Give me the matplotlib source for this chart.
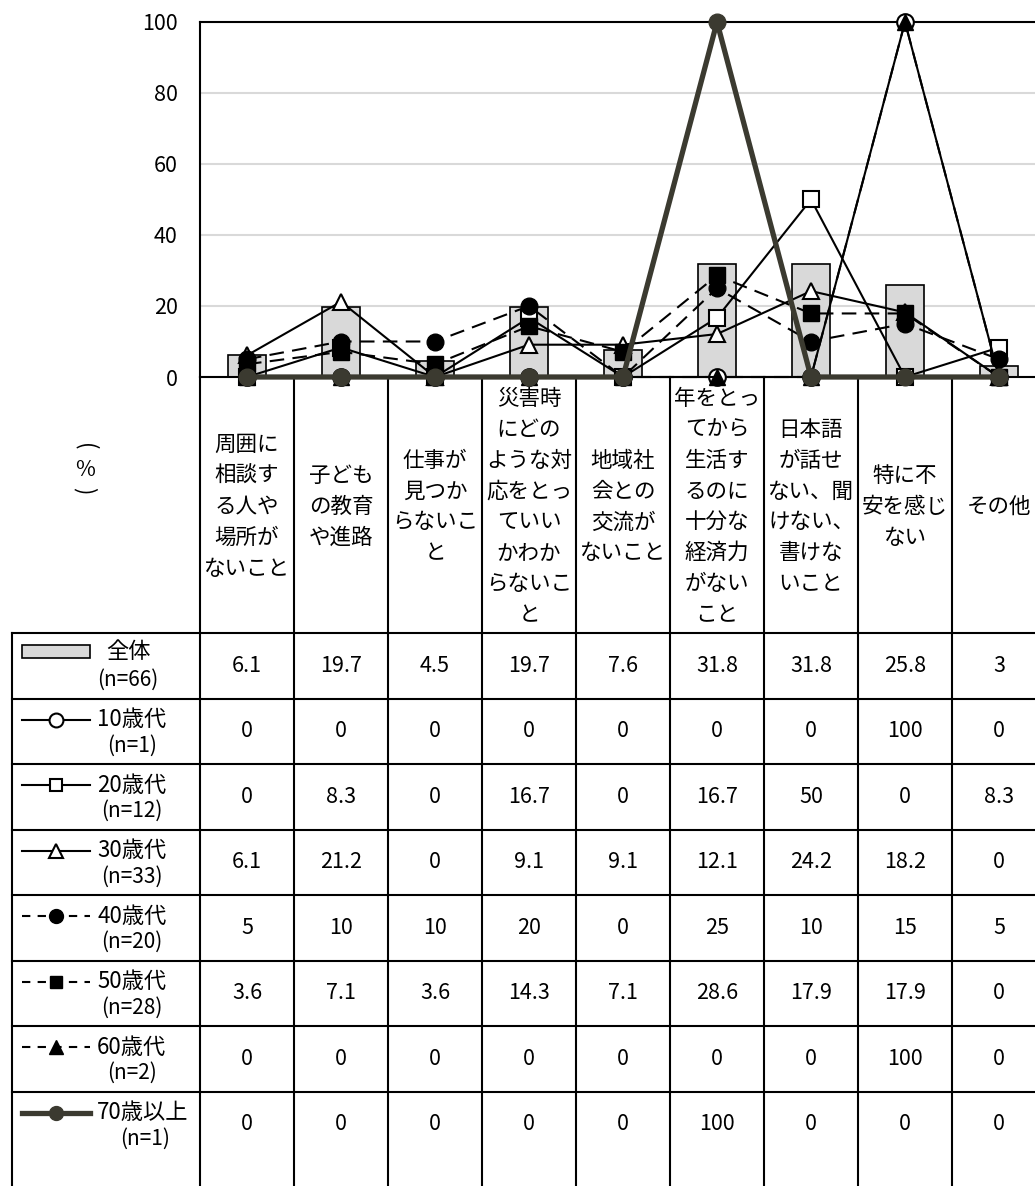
import numpy as np
import matplotlib
matplotlib.use('Agg')
import matplotlib.pyplot as plt
from matplotlib.lines import Line2D
from matplotlib.patches import Rectangle

plt.rcParams['font.family'] = ['Noto Sans CJK JP', 'DejaVu Sans']

categories = ['周囲に\n相談す\nる人や\n場所が\nないこと',
              '子ども\nの教育\nや進路',
              '仕事が\n見つか\nらないこ\nと',
              '災害時\nにどの\nような対\n応をとっ\nていい\nかわか\nらないこ\nと',
              '地域社\n会との\n交流が\nないこと',
              '年をとっ\nてから\n生活す\nるのに\n十分な\n経済力\nがない\nこと',
              '日本語\nが話せ\nない、聞\nけない、\n書けな\nいこと',
              '特に不\n安を感じ\nない',
              'その他']

total = [6.1, 19.7, 4.5, 19.7, 7.6, 31.8, 31.8, 25.8, 3]
age10 = [0, 0, 0, 0, 0, 0, 0, 100, 0]
age20 = [0, 8.3, 0, 16.7, 0, 16.7, 50, 0, 8.3]
age30 = [6.1, 21.2, 0, 9.1, 9.1, 12.1, 24.2, 18.2, 0]
age40 = [5, 10, 10, 20, 0, 25, 10, 15, 5]
age50 = [3.6, 7.1, 3.6, 14.3, 7.1, 28.6, 17.9, 17.9, 0]
age60 = [0, 0, 0, 0, 0, 0, 0, 100, 0]
age70 = [0, 0, 0, 0, 0, 100, 0, 0, 0]

row_names = ['全体', '10歳代', '20歳代', '30歳代', '40歳代', '50歳代', '60歳代', '70歳以上']
row_n = ['(n=66)', '(n=1)', '(n=12)', '(n=33)', '(n=20)', '(n=28)', '(n=2)', '(n=1)']
yticks = [0, 20, 40, 60, 80, 100]

W, H = 1035, 1186
dark = '#3b3a30'
dash = (0, (7, 4))
styles = [
    dict(color='black', lw=1.5, ls='-', marker='o', mfc='white', mec='black', ms=12, mew=1.5),
    dict(color='black', lw=1.5, ls='-', marker='s', mfc='white', mec='black', ms=11, mew=1.5),
    dict(color='black', lw=1.5, ls='-', marker='^', mfc='white', mec='black', ms=12, mew=1.5),
    dict(color='black', lw=1.5, ls=dash, marker='o', mfc='black', mec='black', ms=12),
    dict(color='black', lw=1.5, ls=dash, marker='s', mfc='black', mec='black', ms=11),
    dict(color='black', lw=1.5, ls=dash, marker='^', mfc='black', mec='black', ms=12),
    dict(color=dark, lw=3.8, ls='-', marker='o', mfc=dark, mec=dark, ms=12),
]
series = [age10, age20, age30, age40, age50, age60, age70]

fig = plt.figure(figsize=(W / 100, H / 100), dpi=100)

# pixel-space overlay for the data table
tab = fig.add_axes([0, 0, 1, 1], zorder=0)
tab.set_xlim(0, W)
tab.set_ylim(H, 0)
tab.axis('off')

x0, cw = 200, 94
y_axis0, y_top = 377, 22
hdr_bot, rh = 633, 65.5
ncat = len(categories)

ax = fig.add_axes([x0 / W, (H - y_axis0) / H, cw * ncat / W, (y_axis0 - y_top) / H], zorder=2)
ax.set_facecolor('none')
x = np.arange(ncat)
ax.bar(x, total, width=0.4, color='#d9d9d9', edgecolor='black', lw=1.2, zorder=2)
for vals, st in zip(series, styles):
    ax.plot(x, vals, clip_on=False, zorder=3, **st)
ax.set_xlim(-0.5, ncat - 0.5)
ax.set_ylim(0, 100)
ax.set_yticks(yticks)
ax.set_yticklabels([str(v) for v in yticks], fontsize=15.5)
ax.tick_params(axis='y', length=0, pad=16)
ax.set_xticks([])
ax.grid(axis='y', color='#d9d9d9', lw=1.5, zorder=0)
ax.set_axisbelow(True)
for s in ['left', 'top', 'bottom']:
    ax.spines[s].set_color('black')
    ax.spines[s].set_linewidth(1.5)
ax.spines['right'].set_visible(False)

# y-axis unit, written vertically
tab.text(85, 447, '(', ha='center', va='center', fontsize=16, rotation=-90)
tab.text(85, 470, '%', ha='center', va='center', fontsize=15.5)
tab.text(85, 491, ')', ha='center', va='center', fontsize=16, rotation=-90)

# table grid
for i in range(ncat + 1):
    xx = x0 + cw * i
    tab.plot([xx, xx], [y_axis0, H], color='black', lw=1.5)
for k in range(len(row_names)):
    yy = hdr_bot + rh * k
    tab.plot([12, W], [yy, yy], color='black', lw=1.5)
tab.plot([12, 12], [hdr_bot, H], color='black', lw=1.5)

# category labels
for i, c in enumerate(categories):
    tab.text(x0 + cw * (i + 0.5), (y_axis0 + hdr_bot) / 2 + 2, c, ha='center', va='center',
             fontsize=15.5, linespacing=1.52)

# table values
rows = [total] + series
for k, vals in enumerate(rows):
    top = hdr_bot + rh * k
    for i, v in enumerate(vals):
        tab.text(x0 + cw * (i + 0.5), top + rh / 2, '{:g}'.format(v), ha='center', va='center',
                 fontsize=15.5)

# legend keys
top = hdr_bot
tab.add_patch(Rectangle((22, top + 12), 68, 13, facecolor='#d9d9d9', edgecolor='black', lw=1.2))
tab.text(106, top + 19, row_names[0], ha='left', va='center', fontsize=16)
tab.text(128, top + 47, row_n[0], ha='center', va='center', fontsize=15)
for k, st in enumerate(styles, start=1):
    top = hdr_bot + rh * k
    ln = Line2D([22, 90], [top + 21, top + 21], color=st['color'], lw=st['lw'],
                ls=(0, (4, 3.5)) if st['ls'] != '-' else '-')
    tab.add_line(ln)
    mk = dict(st)
    mk['ms'] = st['ms'] - 2
    mk['ls'] = 'none'
    tab.plot([56], [top + 21], **mk)
    tab.text(97, top + 21, row_names[k], ha='left', va='center', fontsize=16)
    tab.text(132 if k < 7 else 145, top + 47, row_n[k], ha='center', va='center', fontsize=15)

fig.savefig('out.png', dpi=100)
